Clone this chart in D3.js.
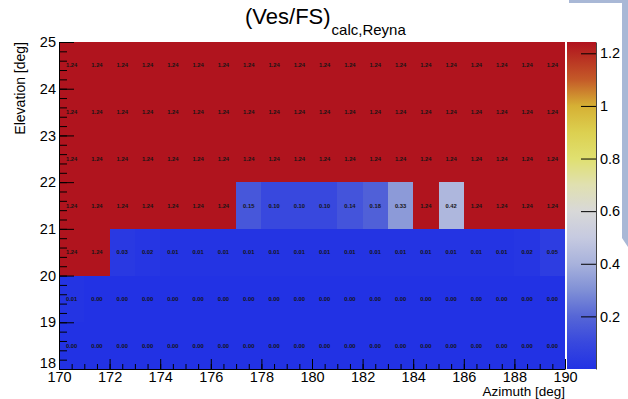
<!DOCTYPE html>
<html>
<head>
<meta charset="utf-8">
<script src="https://cdn.jsdelivr.net/npm/d3@7"></script>
<style>
  body { margin: 0; background: #fff; }
  svg { display: block; font-family: "Liberation Sans", Arial, Helvetica, sans-serif; }
</style>
</head>
<body>
<div id="chart"></div>
<script>
// bin low edges
const azimuth = [170, 171, 172, 173, 174, 175, 176, 177, 178, 179, 180, 181, 182, 183, 184, 185, 186, 187, 188, 189];
const elevation = [18, 19, 20, 21, 22, 23, 24];

// one row per elevation bin (low edge), values along azimuth
const row18 = [0.00, 0.00, 0.00, 0.00, 0.00, 0.00, 0.00, 0.00, 0.00, 0.00, 0.00, 0.00, 0.00, 0.00, 0.00, 0.00, 0.00, 0.00, 0.00, 0.00];
const row19 = [0.01, 0.00, 0.00, 0.00, 0.00, 0.00, 0.00, 0.00, 0.00, 0.00, 0.00, 0.00, 0.00, 0.00, 0.00, 0.00, 0.00, 0.00, 0.00, 0.00];
const row20 = [1.24, 1.24, 0.03, 0.02, 0.01, 0.01, 0.01, 0.01, 0.01, 0.01, 0.01, 0.01, 0.01, 0.01, 0.01, 0.01, 0.01, 0.01, 0.02, 0.05];
const row21 = [1.24, 1.24, 1.24, 1.24, 1.24, 1.24, 1.24, 0.15, 0.10, 0.10, 0.10, 0.14, 0.18, 0.33, 1.24, 0.42, 1.24, 1.24, 1.24, 1.24];
const row22 = [1.24, 1.24, 1.24, 1.24, 1.24, 1.24, 1.24, 1.24, 1.24, 1.24, 1.24, 1.24, 1.24, 1.24, 1.24, 1.24, 1.24, 1.24, 1.24, 1.24];
const row23 = [1.24, 1.24, 1.24, 1.24, 1.24, 1.24, 1.24, 1.24, 1.24, 1.24, 1.24, 1.24, 1.24, 1.24, 1.24, 1.24, 1.24, 1.24, 1.24, 1.24];
const row24 = [1.24, 1.24, 1.24, 1.24, 1.24, 1.24, 1.24, 1.24, 1.24, 1.24, 1.24, 1.24, 1.24, 1.24, 1.24, 1.24, 1.24, 1.24, 1.24, 1.24];
const rows = [row18, row19, row20, row21, row22, row23, row24];

const xTicks = [170, 172, 174, 176, 178, 180, 182, 184, 186, 188, 190];
const yTicks = [18, 19, 20, 21, 22, 23, 24, 25];
const zTicks = [0.2, 0.4, 0.6, 0.8, 1, 1.2];

// palette stops (value -> colour)
const zStops = [0, 0.1, 0.2, 0.3, 0.4, 0.5, 0.6, 0.7, 0.8, 0.9, 1.0, 1.1, 1.243];
const zColors = ["#2232e4", "#3848de", "#5666d6", "#8090d6", "#a8b2dc", "#c6cae0", "#d8d8d8", "#e0e0b0", "#e0e070", "#dcd050", "#d6b034", "#c45a28", "#b0121e"];

const width = 628;
const height = 399;
const margin = ({ top: 42, right: 63, bottom: 30, left: 59 });
const plotRight = 565;
const bar = ({ x0: 567, x1: 596 });

const svg = d3.select("#chart")
  .append("svg")
  .attr("width", width)
  .attr("height", height);

// window decoration in the top right corner
svg.append("path")
  .attr("d", "M569,0H628V247L622,238V3H569Z")
  .attr("fill", "#a9b8d6");

const xScale = d3.scaleLinear().domain([170, 190]).range([margin.left, plotRight]);
const yScale = d3.scaleLinear().domain([18, 25]).range([height - margin.bottom, margin.top]);
const color = d3.scaleLinear().domain(zStops).range(zColors).clamp(true);

const cells = [];
rows.forEach((r, i) => {
  r.forEach((v, j) => cells.push({ az: azimuth[j], el: elevation[i], v: v }));
});

svg.append("g")
  .selectAll("rect")
  .data(cells)
  .join("rect")
  .attr("x", d => xScale(d.az))
  .attr("y", d => yScale(d.el + 1))
  .attr("width", d => xScale(d.az + 1) - xScale(d.az))
  .attr("height", d => yScale(d.el) - yScale(d.el + 1))
  .attr("fill", d => color(d.v))
  .attr("shape-rendering", "crispEdges");

svg.append("g")
  .selectAll("text")
  .data(cells)
  .join("text")
  .attr("x", d => xScale(d.az + 0.5))
  .attr("y", d => yScale(d.el + 0.5))
  .attr("text-anchor", "middle")
  .attr("dominant-baseline", "central")
  .attr("font-size", "5.8px")
  .attr("font-weight", "bold")
  .attr("fill", "#151515")
  .text(d => d3.format(".2f")(d.v));

// x axis (ticks pointing inward)
const xMinor = d3.range(170, 190.01, 0.5);
svg.append("g")
  .attr("transform", `translate(0,${height - margin.bottom})`)
  .call(d3.axisBottom(xScale).tickValues(xMinor).tickSize(-5).tickFormat(""))
  .call(g => g.select(".domain").remove());
svg.append("g")
  .attr("class", "x-axis")
  .attr("transform", `translate(0,${height - margin.bottom})`)
  .call(d3.axisBottom(xScale).tickValues(xTicks).tickSize(-10).tickSizeOuter(0).tickPadding(3).tickFormat(d3.format("d")))
  .call(g => g.selectAll("text").attr("font-size", "14.5px").attr("fill", "#000").attr("font-family", null));

// y axis
const yMinor = d3.range(18, 25.001, 0.2);
svg.append("g")
  .attr("transform", `translate(${margin.left},0)`)
  .call(d3.axisLeft(yScale).tickValues(yMinor).tickSize(-8).tickFormat(""))
  .call(g => g.select(".domain").remove());
svg.append("g")
  .attr("class", "y-axis")
  .attr("transform", `translate(${margin.left},0)`)
  .call(d3.axisLeft(yScale).tickValues(yTicks).tickSize(-15).tickSizeOuter(0).tickPadding(3).tickFormat(d3.format("d")))
  .call(g => g.selectAll("text").attr("font-size", "14.5px").attr("fill", "#000").attr("font-family", null))
  .call(g => g.selectAll(".tick text").filter(d => d === 18).attr("dy", "-0.12em"));

// colour bar
const zScale = d3.scaleLinear().domain([0, 1.243]).range([height - margin.bottom, margin.top]);
const grad = svg.append("defs").append("linearGradient")
  .attr("id", "zgrad")
  .attr("x1", 0).attr("y1", 1).attr("x2", 0).attr("y2", 0);
grad.selectAll("stop")
  .data(zStops)
  .join("stop")
  .attr("offset", d => d / 1.243)
  .attr("stop-color", d => color(d));

svg.append("rect")
  .attr("x", bar.x0)
  .attr("y", zScale(1.243))
  .attr("width", bar.x1 - bar.x0)
  .attr("height", zScale(0) - zScale(1.243))
  .attr("fill", "url(#zgrad)");

svg.append("g")
  .attr("transform", `translate(${bar.x1},0)`)
  .call(d3.axisRight(zScale).tickValues(zTicks).tickSize(-15).tickSizeOuter(0).tickPadding(4).tickFormat(d => String(d)))
  .call(g => g.select(".domain").attr("stroke", "#444"))
  .call(g => g.selectAll("text").attr("font-size", "14.5px").attr("fill", "#000").attr("font-family", null));

// titles
const title = svg.append("text")
  .attr("x", 245)
  .attr("y", 24)
  .attr("font-size", "22px")
  .attr("fill", "#000");
title.append("tspan").text("(Ves/FS)");
title.append("tspan").attr("font-size", "15px").attr("dy", 11).attr("dx", 1).text("calc,Reyna");

svg.append("text")
  .attr("transform", `translate(25,${margin.top}) rotate(-90)`)
  .attr("text-anchor", "end")
  .attr("font-size", "14px")
  .text("Elevation [deg]");

svg.append("text")
  .attr("x", plotRight)
  .attr("y", 396)
  .attr("text-anchor", "end")
  .attr("font-size", "13.5px")
  .text("Azimuth [deg]");
</script>
</body>
</html>
